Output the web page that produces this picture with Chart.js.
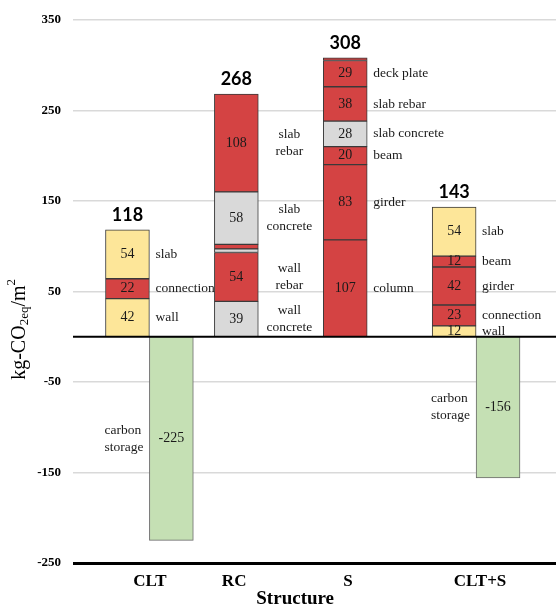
<!DOCTYPE html>
<html>
<head>
<meta charset="utf-8">
<script src="https://cdn.jsdelivr.net/npm/chart.js@4/dist/chart.umd.min.js"></script>
<style>
  html, body { margin: 0; padding: 0; background: #fff; }
  #caja { width: 556px; height: 607px; }
</style>
</head>
<body>
<div id="caja"><canvas id="estructuras"></canvas></div>
<script>
const structures = ['CLT', 'RC', 'S', 'CLT+S'];
const totals = [118, 268, 308, 143];

// segments, bottom to top
const cltValues = [42, 22, 54];
const cltNames = ['wall', 'connection', 'slab'];
const cltMaterials = ['timber', 'steel', 'timber'];

const rcValues = [39, 54, 4, 5, 58, 108];
const rcNames = ['wall\nconcrete', 'wall\nrebar', '', '', 'slab\nconcrete', 'slab\nrebar'];
const rcMaterials = ['concrete', 'steel', 'concrete', 'steel', 'concrete', 'steel'];

const sValues = [107, 83, 20, 28, 38, 29, 3];
const sNames = ['column', 'girder', 'beam', 'slab concrete', 'slab rebar', 'deck plate', ''];
const sMaterials = ['steel', 'steel', 'steel', 'concrete', 'steel', 'steel', 'steel'];

const cltsValues = [12, 23, 42, 12, 54];
const cltsNames = ['wall', 'connection', 'girder', 'beam', 'slab'];
const cltsMaterials = ['timber', 'steel', 'steel', 'steel', 'timber'];

const storageValues = [-225, null, null, -156];
const storageName = 'carbon\nstorage';

const yTicks = [-250, -150, -50, 50, 150, 250, 350];

// where things sit on the x axis
const barPos = [1.24, 3.72, 6.2, 8.68];
const labelPos = [1.75, 3.67, 6.26, 9.27];

const colores = {
  timber: '#fde699',
  steel: '#d44343',
  concrete: '#d9d9d9',
  storage: '#c5e0b4'
};

const grupos = [
  [cltValues, cltNames, cltMaterials],
  [rcValues, rcNames, rcMaterials],
  [sValues, sNames, sMaterials],
  [cltsValues, cltsNames, cltsMaterials]
];

const datasets = [];
grupos.forEach(([vals, names, mats], i) => {
  vals.forEach((v, j) => {
    datasets.push({
      label: names[j],
      data: [{ x: barPos[i], y: v }],
      backgroundColor: colores[mats[j]],
      borderColor: '#3a3a3a',
      borderWidth: 1,
      borderSkipped: false,
      barPercentage: 1,
      categoryPercentage: 1
    });
  });
});
storageValues.forEach((v, i) => {
  if (v === null) return;
  datasets.push({
    label: storageName,
    data: [{ x: barPos[i] + 1, y: v }],
    backgroundColor: colores.storage,
    borderColor: '#6a6a6a',
    borderWidth: 1,
    borderSkipped: false,
    barPercentage: 1,
    categoryPercentage: 1,
    storage: true
  });
});

const serif = '"Liberation Serif", "Times New Roman", serif';

const etiquetas = {
  id: 'etiquetas',
  afterDatasetsDraw(chart) {
    const ctx = chart.ctx;
    const xs = chart.scales.x, ys = chart.scales.y;
    const area = chart.chartArea;
    ctx.save();

    // zero line
    const y0 = ys.getPixelForValue(0);
    ctx.strokeStyle = '#000';
    ctx.lineWidth = 2;
    ctx.beginPath();
    ctx.moveTo(area.left, y0);
    ctx.lineTo(area.right, y0);
    ctx.stroke();

    chart.data.datasets.forEach((ds, i) => {
      const el = chart.getDatasetMeta(i).data[0];
      const v = ds.data[0].y;
      const yc = (el.y + el.base) / 2;
      const right = el.x + el.width / 2;
      const left = el.x - el.width / 2;
      ctx.fillStyle = '#1a1a1a';
      ctx.font = '14px ' + serif;
      ctx.textBaseline = 'middle';
      if (Math.abs(v) >= 10) {
        ctx.textAlign = 'center';
        ctx.fillText(String(v), el.x, yc);
      }
      if (!ds.label) return;
      const lineas = ds.label.split('\n');
      ctx.font = '13.5px ' + serif;
      const alto = 17;
      const y1 = yc - (lineas.length - 1) * alto / 2;
      if (ds.storage) {
        const w = Math.max(...lineas.map(t => ctx.measureText(t).width));
        ctx.textAlign = 'left';
        lineas.forEach((t, k) => ctx.fillText(t, left - 6 - w, y1 + k * alto));
      } else if (lineas.length > 1) {
        ctx.textAlign = 'center';
        lineas.forEach((t, k) => ctx.fillText(t, right + 31, y1 + k * alto));
      } else {
        ctx.textAlign = 'left';
        ctx.fillText(lineas[0], right + 6, yc);
      }
    });

    // totals on top
    ctx.fillStyle = '#000';
    ctx.font = 'bold 18px Lato, "Liberation Sans", sans-serif';
    ctx.textAlign = 'center';
    ctx.textBaseline = 'alphabetic';
    totals.forEach((t, i) => {
      ctx.fillText(String(t), xs.getPixelForValue(barPos[i]), ys.getPixelForValue(t) - 9);
    });
    ctx.restore();
  },
  afterDraw(chart) {
    const ctx = chart.ctx;
    const area = chart.chartArea;
    ctx.save();
    ctx.fillStyle = '#000';

    // x title
    ctx.font = 'bold 19px ' + serif;
    ctx.textAlign = 'center';
    ctx.textBaseline = 'middle';
    ctx.fillText('Structure', area.left + (area.right - area.left) * 0.46, 599);

    // y title with sub/superscript
    const partes = [
      { t: 'kg-CO', f: '20px ' + serif, dy: 0 },
      { t: '2eq', f: '13px ' + serif, dy: 5 },
      { t: '/m', f: '20px ' + serif, dy: 0 },
      { t: '2', f: '13px ' + serif, dy: -8 }
    ];
    let total = 0;
    partes.forEach(p => { ctx.font = p.f; p.w = ctx.measureText(p.t).width; total += p.w; });
    ctx.translate(20, (area.top + area.bottom) / 2 + 38);
    ctx.rotate(-Math.PI / 2);
    ctx.textAlign = 'left';
    let x = -total / 2;
    partes.forEach(p => {
      ctx.font = p.f;
      ctx.fillText(p.t, x, p.dy);
      x += p.w;
    });
    ctx.restore();
  }
};

new Chart(document.getElementById('estructuras'), {
  type: 'bar',
  data: { datasets: datasets },
  options: {
    responsive: true,
    maintainAspectRatio: false,
    animation: false,
    layout: { padding: { top: 17, left: 0, right: 0, bottom: 0 } },
    plugins: {
      legend: { display: false },
      tooltip: { enabled: false }
    },
    scales: {
      x: {
        type: 'linear',
        stacked: true,
        offset: false,
        min: 0,
        max: 11,
        afterBuildTicks: s => { s.ticks = labelPos.map(v => ({ value: v })); },
        afterFit: s => { s.height = 44; },
        grid: { display: false, drawTicks: false, offset: false },
        border: { display: false },
        ticks: {
          autoSkip: false,
          maxRotation: 0,
          padding: 8,
          color: '#000',
          font: { family: serif, weight: 'bold', size: 17 },
          callback: (v, i) => structures[i]
        }
      },
      y: {
        stacked: true,
        min: -250,
        max: 350,
        afterBuildTicks: s => { s.ticks = yTicks.map(v => ({ value: v })); },
        afterFit: s => { s.width = 73; },
        grid: {
          drawTicks: false,
          color: c => c.tick && c.tick.value === -250 ? '#000' : '#d9d9d9',
          lineWidth: c => c.tick && c.tick.value === -250 ? 3 : 1.5
        },
        border: { display: false },
        ticks: {
          padding: 12,
          color: '#000',
          font: { family: serif, weight: 'bold', size: 13 }
        }
      }
    }
  },
  plugins: [etiquetas]
});
</script>
</body>
</html>
